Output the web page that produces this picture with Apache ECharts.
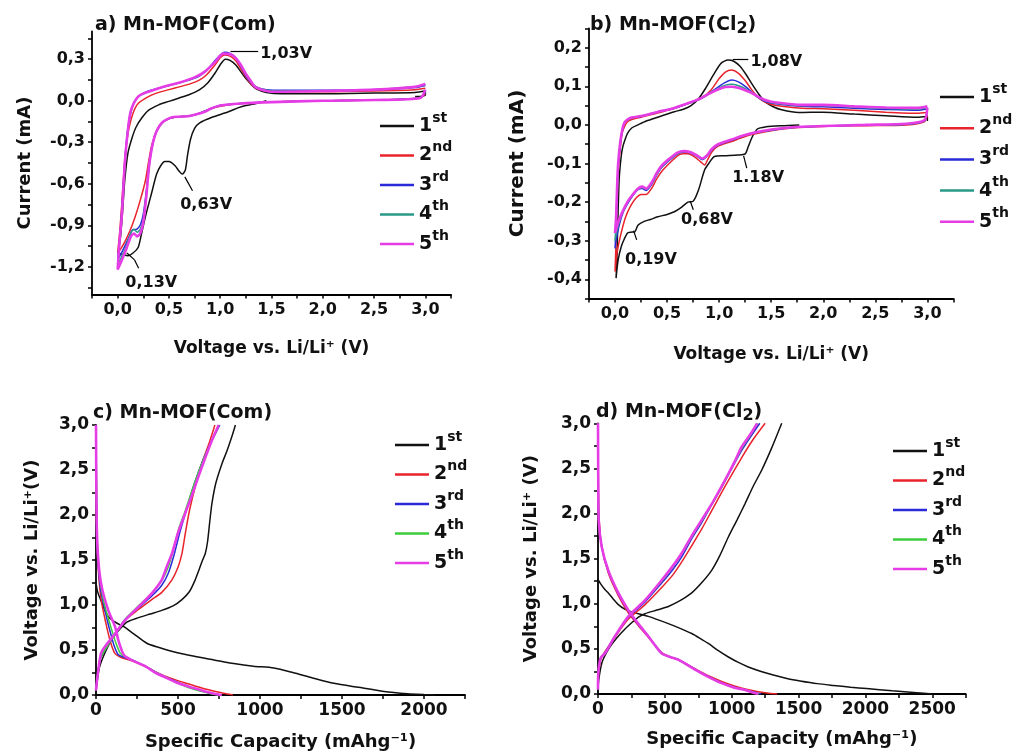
<!DOCTYPE html>
<html><head><meta charset="utf-8">
<script src="https://cdn.jsdelivr.net/npm/echarts@6/dist/echarts.min.js"></script>
<style>html,body{margin:0;padding:0;background:#fff}#c{width:1014px;height:756px}</style>
</head><body><div id="c"></div>
<script>
// ---------- tick labels ----------
const cvXTicks = [0, 0.5, 1.0, 1.5, 2.0, 2.5, 3.0];
const cvXMinor = [-0.25, 0.25, 0.75, 1.25, 1.75, 2.25, 2.75, 3.25];
const aYTicks = [-1.2, -0.9, -0.6, -0.3, 0.0, 0.3];
const aYMinor = [-1.35, -1.05, -0.75, -0.45, -0.15, 0.15, 0.45];
const bYTicks = [-0.4, -0.3, -0.2, -0.1, 0.0, 0.1, 0.2];
const bYMinor = [-0.45, -0.35, -0.25, -0.15, -0.05, 0.05, 0.15, 0.25];
const cXTicks = [0, 500, 1000, 1500, 2000];
const cXMinor = [250, 750, 1250, 1750, 2250];
const dXTicks = [0, 500, 1000, 1500, 2000, 2500];
const dXMinor = [250, 750, 1250, 1750, 2250, 2750];
const gcdYTicks = [0.0, 0.5, 1.0, 1.5, 2.0, 2.5, 3.0];
const gcdYMinor = [0.25, 0.75, 1.25, 1.75, 2.25, 2.75];

const cycleLabels = [['1','st'],['2','nd'],['3','rd'],['4','th'],['5','th']];

// ---------- a) CV Mn-MOF(Com): [V, mA] ----------
const a1 = [[1.45,0.0],[1.35,-0.02],[1.25,-0.035],[1.18,-0.05],[1.08,-0.08],[0.92,-0.12],[0.80,-0.16],[0.75,-0.20],[0.71,-0.28],[0.68,-0.40],[0.66,-0.50],[0.63,-0.53],[0.60,-0.51],[0.56,-0.47],[0.50,-0.44],[0.46,-0.44],[0.42,-0.47],[0.38,-0.53],[0.33,-0.67],[0.27,-0.84],[0.23,-0.97],[0.20,-1.06],[0.15,-1.10],[0.10,-1.12],[0.05,-1.11],[0.01,-1.10],
  [0.03,-0.97],[0.05,-0.78],[0.07,-0.57],[0.10,-0.38],[0.14,-0.27],[0.18,-0.19],[0.24,-0.12],[0.30,-0.07],[0.40,-0.03],[0.50,-0.005],[0.60,0.02],[0.70,0.045],[0.80,0.08],[0.88,0.13],[0.95,0.20],[1.00,0.26],[1.05,0.30],[1.10,0.29],[1.15,0.26],[1.20,0.21],[1.25,0.16],[1.30,0.12],[1.35,0.085],[1.45,0.06],[1.6,0.05],[2.0,0.05],[2.5,0.055],[2.9,0.06],[3.0,0.07],[3.0,0.04],[2.9,0.03]];
const a2 = [[3.0,0.05],[2.95,0.02],[2.5,0.005],[2.0,0.0],[1.5,-0.01],[1.2,-0.02],[1.0,-0.04],[0.9,-0.06],[0.8,-0.09],[0.7,-0.11],[0.55,-0.12],[0.45,-0.15],[0.38,-0.22],[0.33,-0.33],[0.30,-0.45],[0.27,-0.58],[0.22,-0.72],[0.17,-0.84],[0.12,-0.94],[0.07,-1.02],[0.03,-1.07],[0.0,-1.1],
  [0.02,-0.95],[0.04,-0.75],[0.06,-0.52],[0.08,-0.35],[0.11,-0.2],[0.15,-0.09],[0.2,-0.02],[0.3,0.03],[0.4,0.06],[0.5,0.08],[0.6,0.10],[0.7,0.12],[0.8,0.15],[0.87,0.19],[0.95,0.26],[1.0,0.31],[1.04,0.33],[1.1,0.32],[1.15,0.29],[1.2,0.23],[1.25,0.17],[1.3,0.12],[1.35,0.09],[1.45,0.07],[1.6,0.065],[2.0,0.065],[2.5,0.07],[2.9,0.08],[3.0,0.09]];
const a3 = [[3.0,0.06],[2.95,0.02],[2.5,0.005],[2.0,0.0],[1.5,-0.01],[1.2,-0.02],[1.0,-0.035],[0.9,-0.06],[0.8,-0.09],[0.7,-0.11],[0.55,-0.12],[0.45,-0.15],[0.38,-0.22],[0.34,-0.32],[0.31,-0.45],[0.28,-0.65],[0.25,-0.82],[0.22,-0.90],[0.18,-0.93],[0.15,-0.93],[0.12,-0.97],[0.07,-1.05],[0.03,-1.11],[0.0,-1.15],
  [0.02,-1.0],[0.04,-0.8],[0.06,-0.55],[0.08,-0.34],[0.1,-0.2],[0.13,-0.08],[0.17,0.0],[0.22,0.04],[0.3,0.07],[0.4,0.09],[0.5,0.11],[0.6,0.13],[0.7,0.15],[0.8,0.18],[0.87,0.22],[0.95,0.29],[1.0,0.33],[1.04,0.35],[1.1,0.34],[1.15,0.31],[1.2,0.25],[1.25,0.18],[1.3,0.13],[1.35,0.1],[1.45,0.08],[1.6,0.075],[2.0,0.075],[2.5,0.08],[2.9,0.095],[3.0,0.11]];
const a4 = [[3.0,0.07],[2.95,0.02],[2.5,0.005],[2.0,0.0],[1.5,-0.01],[1.2,-0.02],[1.0,-0.035],[0.9,-0.06],[0.8,-0.09],[0.7,-0.11],[0.55,-0.12],[0.45,-0.15],[0.38,-0.22],[0.34,-0.32],[0.31,-0.46],[0.28,-0.67],[0.25,-0.86],[0.22,-0.93],[0.19,-0.95],[0.16,-0.93],[0.13,-0.95],[0.08,-1.06],[0.03,-1.14],[0.0,-1.18],
  [0.02,-1.0],[0.04,-0.82],[0.07,-0.46],[0.1,-0.21],[0.13,-0.07],[0.2,0.03],[0.3,0.065],[0.4,0.09],[0.5,0.11],[0.6,0.13],[0.75,0.165],[0.85,0.21],[0.95,0.28],[1.03,0.34],[1.1,0.335],[1.15,0.31],[1.2,0.255],[1.25,0.19],[1.3,0.135],[1.35,0.1],[1.45,0.075],[1.6,0.07],[2.0,0.07],[2.5,0.08],[2.9,0.1],[3.0,0.115]];
const a5 = [[3.0,0.08],[2.95,0.02],[2.5,0.005],[2.0,0.0],[1.5,-0.01],[1.2,-0.02],[1.0,-0.035],[0.9,-0.06],[0.85,-0.08],[0.7,-0.11],[0.53,-0.12],[0.43,-0.16],[0.36,-0.26],[0.31,-0.45],[0.28,-0.69],[0.25,-0.88],[0.22,-0.96],[0.19,-0.98],[0.16,-0.96],[0.13,-0.98],[0.08,-1.08],[0.03,-1.17],[0.0,-1.22],
  [0.02,-1.0],[0.04,-0.84],[0.07,-0.45],[0.1,-0.21],[0.13,-0.07],[0.2,0.03],[0.3,0.065],[0.49,0.11],[0.6,0.13],[0.755,0.17],[0.85,0.21],[0.95,0.28],[1.03,0.34],[1.1,0.335],[1.15,0.31],[1.2,0.26],[1.245,0.2],[1.3,0.14],[1.34,0.10],[1.42,0.075],[1.5,0.065],[2.0,0.07],[2.5,0.08],[2.9,0.1],[3.0,0.12]];

// ---------- b) CV Mn-MOF(Cl2): [V, mA] ----------
const b1 = [[1.77,0.0],[1.6,-0.002],[1.45,-0.005],[1.37,-0.01],[1.32,-0.03],[1.28,-0.056],[1.25,-0.075],[1.18,-0.078],[1.05,-0.08],[0.955,-0.082],[0.9,-0.1],[0.86,-0.117],[0.8,-0.17],[0.75,-0.198],[0.7,-0.2],[0.63,-0.215],[0.57,-0.225],[0.5,-0.232],[0.41,-0.238],[0.34,-0.245],[0.28,-0.25],[0.22,-0.26],[0.19,-0.277],[0.15,-0.278],[0.12,-0.28],[0.09,-0.295],[0.06,-0.315],[0.03,-0.35],[0.01,-0.397],
  [0.02,-0.33],[0.025,-0.27],[0.04,-0.14],[0.06,-0.08],[0.075,-0.056],[0.1,-0.035],[0.12,-0.022],[0.16,-0.008],[0.22,0.0],[0.3,0.01],[0.41,0.02],[0.57,0.034],[0.65,0.04],[0.73,0.05],[0.8,0.067],[0.87,0.095],[0.955,0.134],[1.02,0.16],[1.085,0.168],[1.14,0.165],[1.2,0.152],[1.26,0.13],[1.31,0.108],[1.38,0.08],[1.44,0.06],[1.52,0.047],[1.6,0.039],[1.76,0.032],[2.0,0.033],[2.3,0.028],[2.6,0.024],[2.9,0.02],[3.0,0.022],[3.0,0.01]];
const b2 = [[3.0,0.025],[2.97,0.008],[2.8,0.0],[2.4,-0.002],[2.0,-0.004],[1.7,-0.008],[1.5,-0.015],[1.31,-0.025],[1.2,-0.035],[1.12,-0.043],[0.99,-0.055],[0.93,-0.07],[0.89,-0.09],[0.86,-0.104],[0.82,-0.095],[0.76,-0.082],[0.7,-0.075],[0.65,-0.075],[0.6,-0.08],[0.52,-0.1],[0.45,-0.12],[0.4,-0.14],[0.35,-0.165],[0.3,-0.18],[0.25,-0.18],[0.2,-0.19],[0.15,-0.21],[0.1,-0.24],[0.05,-0.29],[0.02,-0.33],[0.0,-0.38],
  [0.01,-0.3],[0.02,-0.2],[0.03,-0.12],[0.05,-0.06],[0.07,-0.02],[0.09,-0.005],[0.12,0.008],[0.16,0.014],[0.25,0.02],[0.4,0.03],[0.57,0.043],[0.7,0.055],[0.83,0.069],[0.92,0.09],[1.0,0.12],[1.06,0.137],[1.12,0.142],[1.18,0.135],[1.25,0.115],[1.31,0.092],[1.38,0.07],[1.45,0.058],[1.55,0.05],[1.8,0.043],[2.0,0.042],[2.3,0.038],[2.6,0.033],[2.9,0.03],[3.0,0.032]];
const b3 = [[3.0,0.035],[2.97,0.01],[2.8,0.002],[2.4,0.0],[2.0,-0.003],[1.7,-0.007],[1.5,-0.014],[1.31,-0.022],[1.2,-0.032],[1.12,-0.04],[0.99,-0.052],[0.93,-0.065],[0.88,-0.082],[0.84,-0.09],[0.78,-0.08],[0.72,-0.072],[0.66,-0.07],[0.6,-0.075],[0.52,-0.092],[0.45,-0.11],[0.4,-0.13],[0.35,-0.155],[0.3,-0.17],[0.26,-0.165],[0.22,-0.168],[0.18,-0.18],[0.13,-0.2],[0.08,-0.225],[0.04,-0.26],[0.01,-0.3],[0.0,-0.32],
  [0.01,-0.27],[0.02,-0.18],[0.03,-0.11],[0.05,-0.05],[0.07,-0.015],[0.09,0.005],[0.12,0.013],[0.16,0.018],[0.25,0.022],[0.4,0.033],[0.57,0.043],[0.7,0.055],[0.83,0.069],[0.92,0.085],[1.0,0.1],[1.06,0.11],[1.12,0.116],[1.18,0.112],[1.25,0.1],[1.31,0.086],[1.38,0.07],[1.45,0.06],[1.55,0.055],[1.8,0.048],[2.0,0.047],[2.3,0.043],[2.6,0.04],[2.9,0.038],[3.0,0.042]];
const b4 = [[3.0,0.04],[2.97,0.011],[2.8,0.002],[2.4,0.0],[2.0,-0.003],[1.7,-0.007],[1.5,-0.013],[1.31,-0.022],[1.2,-0.031],[1.12,-0.039],[0.99,-0.051],[0.93,-0.063],[0.88,-0.081],[0.84,-0.088],[0.78,-0.079],[0.72,-0.071],[0.66,-0.069],[0.6,-0.074],[0.52,-0.09],[0.45,-0.108],[0.4,-0.128],[0.35,-0.152],[0.3,-0.167],[0.26,-0.162],[0.22,-0.166],[0.18,-0.178],[0.13,-0.197],[0.08,-0.222],[0.04,-0.252],[0.01,-0.285],[0.0,-0.30],
  [0.01,-0.255],[0.02,-0.17],[0.03,-0.105],[0.05,-0.047],[0.07,-0.013],[0.09,0.006],[0.12,0.014],[0.16,0.019],[0.25,0.023],[0.4,0.033],[0.57,0.044],[0.7,0.056],[0.83,0.07],[0.92,0.084],[1.0,0.096],[1.06,0.103],[1.12,0.105],[1.18,0.102],[1.25,0.094],[1.31,0.084],[1.38,0.071],[1.45,0.062],[1.55,0.056],[1.8,0.05],[2.0,0.05],[2.3,0.046],[2.6,0.043],[2.9,0.041],[3.0,0.045]];
const b5 = [[3.0,0.045],[2.97,0.012],[2.8,0.003],[2.4,0.0],[2.0,-0.003],[1.7,-0.006],[1.5,-0.012],[1.31,-0.022],[1.2,-0.03],[1.12,-0.038],[0.99,-0.05],[0.93,-0.062],[0.88,-0.08],[0.84,-0.087],[0.78,-0.078],[0.72,-0.07],[0.66,-0.068],[0.6,-0.072],[0.52,-0.088],[0.45,-0.105],[0.4,-0.125],[0.35,-0.15],[0.3,-0.165],[0.26,-0.16],[0.22,-0.165],[0.18,-0.177],[0.13,-0.195],[0.08,-0.22],[0.04,-0.245],[0.01,-0.27],[0.0,-0.28],
  [0.01,-0.24],[0.02,-0.16],[0.03,-0.1],[0.05,-0.045],[0.07,-0.012],[0.09,0.006],[0.12,0.014],[0.16,0.019],[0.25,0.023],[0.4,0.033],[0.57,0.044],[0.7,0.056],[0.83,0.07],[0.92,0.083],[1.0,0.093],[1.06,0.098],[1.12,0.099],[1.18,0.096],[1.25,0.09],[1.31,0.083],[1.38,0.072],[1.45,0.064],[1.55,0.058],[1.8,0.052],[2.0,0.052],[2.3,0.048],[2.6,0.045],[2.9,0.044],[3.0,0.048]];

// ---------- c) GCD Mn-MOF(Com): [mAh/g, V] ----------
const c1Dis = [[0,1.25],[8,1.16],[15,1.12],[30,1.05],[45,0.98],[65,0.9],[86,0.85],[126,0.80],[170,0.76],[230,0.68],[310,0.575],[380,0.53],[473,0.48],[600,0.43],[720,0.39],[840,0.35],[960,0.32],[1084,0.30],[1200,0.25],[1320,0.19],[1450,0.13],[1600,0.085],[1756,0.04],[1900,0.015],[2000,0.005],[2070,0.0]];
const c1Chg = [[0,0.02],[5,0.12],[20,0.3],[50,0.45],[90,0.6],[130,0.7],[188,0.81],[260,0.86],[330,0.9],[401,0.94],[470,0.99],[524,1.06],[570,1.15],[605,1.28],[630,1.4],[650,1.5],[666,1.57],[680,1.7],[695,1.95],[707,2.13],[730,2.35],[768,2.57],[800,2.72],[830,2.88],[850,3.0]];
const c2Dis = [[0,3.0],[2,2.3],[5,1.8],[12,1.45],[25,1.15],[40,0.97],[60,0.8],[75,0.68],[95,0.55],[116,0.46],[150,0.42],[200,0.39],[260,0.35],[360,0.26],[450,0.19],[550,0.13],[650,0.075],[750,0.03],[800,0.01],[835,0.0]];
const c2Chg = [[0,0.05],[4,0.13],[25,0.4],[55,0.5],[116,0.68],[177,0.83],[259,0.95],[340,1.06],[401,1.14],[463,1.28],[500,1.42],[524,1.57],[545,1.8],[570,2.05],[610,2.35],[650,2.6],[690,2.8],[725,3.0]];
const c3Dis = [[0,3.0],[3,2.2],[7,1.7],[15,1.4],[30,1.15],[50,0.98],[70,0.82],[90,0.68],[110,0.55],[135,0.45],[170,0.42],[220,0.39],[300,0.32],[400,0.22],[500,0.14],[600,0.07],[700,0.02],[760,0.0]];
const c3Chg = [[0,0.05],[4,0.13],[25,0.4],[55,0.5],[116,0.68],[177,0.84],[259,0.97],[340,1.1],[401,1.22],[440,1.35],[475,1.55],[510,1.8],[550,2.05],[600,2.35],[650,2.6],[700,2.8],[755,3.0]];
const c4Dis = [[0,3.0],[4,2.1],[8,1.7],[18,1.4],[35,1.15],[55,0.98],[80,0.82],[100,0.7],[125,0.56],[150,0.46],[185,0.42],[230,0.38],[300,0.32],[400,0.22],[500,0.13],[600,0.06],[700,0.015],[750,0.0]];
const c4Chg = [[0,0.05],[4,0.13],[25,0.4],[55,0.5],[116,0.68],[177,0.84],[259,0.99],[340,1.13],[401,1.27],[440,1.42],[470,1.6],[505,1.85],[545,2.05],[590,2.3],[640,2.55],[700,2.8],[750,3.0]];
const c5Dis = [[0,3.0],[4,1.94],[14,1.5],[35,1.2],[75,0.94],[116,0.76],[136,0.61],[160,0.48],[177,0.43],[238,0.37],[300,0.32],[360,0.25],[430,0.19],[503,0.13],[590,0.08],[666,0.04],[720,0.015],[768,0.0]];
const c5Chg = [[0,0.05],[4,0.13],[30,0.46],[60,0.55],[116,0.68],[177,0.83],[259,0.98],[340,1.13],[401,1.28],[430,1.42],[463,1.57],[500,1.8],[544,2.02],[585,2.22],[625,2.43],[665,2.63],[707,2.83],[748,3.0]];

// ---------- d) GCD Mn-MOF(Cl2): [mAh/g, V] ----------
const d1Dis = [[0,1.27],[20,1.22],[50,1.16],[77,1.12],[115,1.05],[152,0.99],[200,0.94],[252,0.91],[376,0.86],[526,0.78],[610,0.73],[701,0.67],[760,0.62],[825,0.56],[900,0.48],[975,0.41],[1050,0.35],[1124,0.30],[1220,0.25],[1311,0.21],[1420,0.17],[1511,0.145],[1640,0.115],[1760,0.095],[1890,0.075],[2010,0.06],[2200,0.035],[2384,0.014],[2500,0.0]];
const d1Chg = [[0,0.02],[5,0.15],[30,0.35],[80,0.5],[140,0.62],[202,0.72],[260,0.8],[300,0.85],[352,0.89],[440,0.93],[526,0.97],[620,1.04],[701,1.12],[780,1.24],[850,1.37],[910,1.53],[975,1.74],[1040,1.93],[1100,2.11],[1160,2.3],[1224,2.48],[1300,2.73],[1374,3.0]];
const d2Dis = [[0,3.0],[3,2.3],[8,1.95],[28,1.63],[77,1.34],[152,1.09],[227,0.9],[301,0.76],[376,0.63],[476,0.46],[540,0.41],[601,0.38],[726,0.28],[830,0.2],[925,0.14],[1020,0.09],[1100,0.055],[1200,0.025],[1280,0.008],[1340,0.0]];
const d2Chg = [[0,0.05],[2,0.2],[20,0.38],[52,0.47],[127,0.63],[227,0.83],[352,0.99],[476,1.18],[560,1.32],[650,1.52],[776,1.83],[850,2.03],[950,2.3],[1075,2.62],[1160,2.82],[1250,3.0]];
const d3Dis = [[0,3.0],[2,2.3],[6,1.94],[28,1.63],[77,1.36],[152,1.11],[227,0.92],[301,0.77],[376,0.64],[476,0.455],[540,0.41],[601,0.38],[726,0.275],[825,0.195],[925,0.125],[1020,0.075],[1100,0.045],[1170,0.02],[1220,0.0]];
const d3Chg = [[0,0.05],[2,0.22],[20,0.4],[52,0.46],[127,0.64],[227,0.85],[352,1.02],[476,1.23],[560,1.38],[626,1.52],[700,1.72],[776,1.9],[870,2.15],[950,2.36],[1075,2.7],[1210,3.0]];
const d4Dis = [[0,3.0],[2,2.3],[5,1.93],[28,1.63],[77,1.37],[152,1.12],[227,0.93],[301,0.78],[376,0.64],[476,0.45],[540,0.41],[601,0.38],[726,0.27],[825,0.19],[925,0.12],[1020,0.07],[1100,0.044],[1160,0.018],[1205,0.0]];
const d4Chg = [[0,0.05],[2,0.23],[20,0.4],[52,0.45],[127,0.64],[227,0.86],[352,1.04],[476,1.25],[560,1.41],[626,1.55],[700,1.74],[776,1.92],[860,2.12],[950,2.36],[1020,2.56],[1075,2.72],[1140,2.87],[1195,3.0]];
const d5Dis = [[0,3.0],[2,2.3],[5,1.93],[28,1.63],[77,1.37],[152,1.12],[227,0.93],[301,0.78],[376,0.64],[476,0.45],[540,0.41],[601,0.38],[726,0.27],[825,0.19],[925,0.12],[1020,0.07],[1100,0.044],[1150,0.02],[1199,0.0]];
const d5Chg = [[0,0.05],[2,0.23],[20,0.4],[52,0.45],[127,0.64],[227,0.86],[352,1.04],[476,1.26],[560,1.42],[626,1.56],[700,1.75],[776,1.93],[860,2.13],[950,2.37],[1020,2.57],[1075,2.74],[1140,2.88],[1190,3.0]];

// ---------- styling ----------
const F = "'DejaVu Sans', sans-serif";
const INK = '#111';
const colCV = ['#111111', '#e8232b', '#2a2ad8', '#2a9a88', '#e63ce6'];
const colGCD = ['#111111', '#e8232b', '#2a2ad8', '#3ccc3c', '#e63ce6'];
const widths = [1.5, 1.5, 1.5, 1.5, 2.6];

const f1 = v => (Math.round(v * 10) / 10).toFixed(1).replace('.', ',').replace('-0,0', '0,0');
const f0 = v => String(Math.round(v));

function axis(grid, min, max, labels, ticks, fmt, name, nameGap, nameSize, labelSize) {
  return {
    type: 'value', gridIndex: grid, min: min, max: max,
    axisLine: {show: true, onZero: false, lineStyle: {color: '#000', width: 1.8}},
    axisTick: {show: true, customValues: ticks, length: 4, lineStyle: {color: '#000', width: 1.5}},
    axisLabel: {show: true, customValues: labels, formatter: fmt, color: INK, fontFamily: F,
                fontWeight: 'bold', fontSize: labelSize, margin: 7},
    splitLine: {show: false},
    name: name, nameLocation: 'middle', nameGap: nameGap,
    nameTextStyle: {color: INK, fontFamily: F, fontWeight: 'bold', fontSize: nameSize}
  };
}

const grids = [
  {left: 92, top: 31.5, width: 359, height: 263},
  {left: 589, top: 28.4, width: 364.4, height: 270.2},
  {left: 96, top: 425, width: 369, height: 270},
  {left: 598, top: 423.3, width: 367.7, height: 270.7}
].map(g => Object.assign({outerBoundsMode: 'none', containLabel: false}, g));

const xAxes = [
  axis(0, -0.25, 3.25, cvXTicks, cvXTicks.concat(cvXMinor), f1, 'Voltage vs. Li/Li\u207A (V)', 46, 17, 16),
  axis(1, -0.25, 3.25, cvXTicks, cvXTicks.concat(cvXMinor), f1, 'Voltage vs. Li/Li\u207A (V)', 47, 17, 16),
  axis(2, 0, 2250, cXTicks, cXTicks.concat(cXMinor), f0, 'Specific Capacity (mAhg\u207B\u00B9)', 38, 18, 17),
  axis(3, 0, 2750, dXTicks, dXTicks.concat(dXMinor), f0, 'Specific Capacity (mAhg\u207B\u00B9)', 36, 18, 17)
];
const yAxes = [
  axis(0, -1.4, 0.5, aYTicks, aYTicks.concat(aYMinor), f1, 'Current (mA)', 58, 18, 16),
  axis(1, -0.45, 0.25, bYTicks, bYTicks.concat(bYMinor), f1, 'Current (mA)', 61, 20, 16),
  axis(2, 0, 3, gcdYTicks, gcdYTicks.concat(gcdYMinor), f1, 'Voltage vs. Li/Li\u207A(V)', 55, 18, 17),
  axis(3, 0, 3, gcdYTicks, gcdYTicks.concat(gcdYMinor), f1, 'Voltage vs. Li/Li\u207A (V)', 58, 18, 17)
];

function line(name, data, color, width, idx, extra) {
  return Object.assign({
    type: 'line', name: name, data: data, xAxisIndex: idx, yAxisIndex: idx,
    symbol: 'none', showSymbol: false, smooth: 0.25, clip: true,
    lineStyle: {color: color, width: width}, itemStyle: {color: color},
    emphasis: {disabled: true}
  }, extra || {});
}

const annoLabel = {show: true, position: 'right', distance: 0, formatter: '{b}', color: INK,
                   fontFamily: F, fontWeight: 'bold', fontSize: 16};
function markers(texts, arrows) {
  return {
    markPoint: {symbol: 'circle', symbolSize: 0, silent: true, label: annoLabel,
                data: texts.map(t => ({name: t[0], coord: [t[1], t[2]]}))},
    markLine: {silent: true, symbol: ['none', 'arrow'], symbolSize: [0, 7],
               lineStyle: {color: '#000', width: 1.2, type: 'solid'}, label: {show: false},
               data: arrows.map(a => [{coord: [a[0], a[1]], symbol: 'none'},
                                       {coord: [a[2], a[3]], symbol: a[4] ? 'arrow' : 'none'}])}
  };
}

const cvA = [a1, a2, a3, a4, a5];
const cvB = [b1, b2, b3, b4, b5];
const gcdC = [[c1Dis, c1Chg], [c2Dis, c2Chg], [c3Dis, c3Chg], [c4Dis, c4Chg], [c5Dis, c5Chg]];
const gcdD = [[d1Dis, d1Chg], [d2Dis, d2Chg], [d3Dis, d3Chg], [d4Dis, d4Chg], [d5Dis, d5Chg]];

const series = [];
cvA.forEach((d, i) => series.push(line('a' + (i + 1), d, colCV[i], widths[i], 0,
  i === 0 ? markers(
    [['1,03V', 1.39, 0.335], ['0,63V', 0.61, -0.755], ['0,13V', 0.075, -1.318]],
    [[1.37, 0.36, 1.10, 0.36, true], [0.73, -0.65, 0.655, -0.55, true],
     [0.205, -1.21, 0.165, -1.15, false], [0.165, -1.15, 0.09, -1.10, true]]) : null)));
cvB.forEach((d, i) => series.push(line('b' + (i + 1), d, colCV[i], widths[i], 1,
  i === 0 ? markers(
    [['1,08V', 1.30, 0.163], ['1.18V', 1.125, -0.138], ['0,68V', 0.634, -0.246], ['0,19V', 0.096, -0.35]],
    [[1.28, 0.171, 1.13, 0.171, true], [1.265, -0.112, 1.235, -0.08, true],
     [0.752, -0.22, 0.722, -0.197, true], [0.208, -0.298, 0.178, -0.274, true]]) : null)));
gcdC.forEach((p, i) => { series.push(line('c' + (i + 1), p[0], colGCD[i], widths[i], 2));
                         series.push(line('c' + (i + 1), p[1], colGCD[i], widths[i], 2)); });
gcdD.forEach((p, i) => { series.push(line('d' + (i + 1), p[0], colGCD[i], widths[i], 3));
                         series.push(line('d' + (i + 1), p[1], colGCD[i], widths[i], 3)); });

function legend(prefix, left, top, gap) {
  return {
    orient: 'vertical', left: left, top: top, padding: 0, itemGap: gap,
    itemWidth: 34, itemHeight: 2.5, icon: 'rect', selectedMode: false,
    data: [1, 2, 3, 4, 5].map(k => prefix + k),
    formatter: n => { const c = cycleLabels[+n.slice(1) - 1]; return '{n|' + c[0] + '}{s|' + c[1] + '}'; },
    textStyle: {rich: {
      n: {fontFamily: F, fontWeight: 'bold', fontSize: 19, color: INK, lineHeight: 30},
      s: {fontFamily: F, fontWeight: 'bold', fontSize: 14, color: INK, lineHeight: 12, verticalAlign: 'top'}
    }}
  };
}

function title(text, left, top) {
  return {text: text, left: left, top: top, padding: 0,
    textStyle: {fontFamily: F, fontWeight: 'bold', fontSize: 19, color: INK, lineHeight: 24,
      rich: {m: {fontFamily: F, fontWeight: 'bold', fontSize: 19, color: INK, lineHeight: 24},
             b: {fontFamily: F, fontWeight: 'bold', fontSize: 16, color: INK, lineHeight: 14, verticalAlign: 'bottom'}}}};
}

const chart = echarts.init(document.getElementById('c'), null, {renderer: 'canvas'});
chart.setOption({
  animation: false,
  backgroundColor: '#fff',
  title: [
    title('{m|a) Mn-MOF(Com)}', 95, 13),
    title('{m|b) Mn-MOF(Cl}{b|2}{m|)}', 590, 13),
    title('{m|c) Mn-MOF(Com)}', 93, 401),
    title('{m|d) Mn-MOF(Cl}{b|2}{m|)}', 596, 400)
  ],
  legend: [
    legend('a', 380, 111, 5),
    legend('b', 940, 82, 6.7),
    legend('c', 395, 430, 5),
    legend('d', 893, 436, 5)
  ],
  grid: grids,
  xAxis: xAxes,
  yAxis: yAxes,
  series: series
});
</script></body></html>
